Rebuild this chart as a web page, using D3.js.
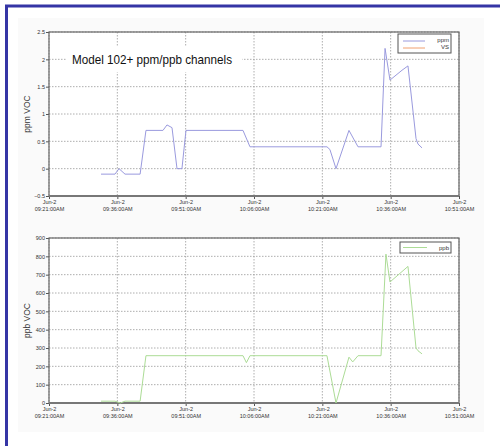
<!DOCTYPE html>
<html>
<head>
<meta charset="utf-8">
<script src="https://cdn.jsdelivr.net/npm/d3@7"></script>
<style>
  body { margin: 0; background: #fff; }
  svg { display: block; font-family: "Liberation Sans", Arial, sans-serif; }
  .tick text { fill: #333; }
</style>
</head>
<body>
<svg width="500" height="446"></svg>
<script>
// x ticks (Jun-2, every 15 minutes)
var xTicks = ["09:21:00", "09:36:00", "09:51:00", "10:06:00", "10:21:00", "10:36:00", "10:51:00"];
var xTickLabels = ["09:21:00AM", "09:36:00AM", "09:51:00AM", "10:06:00AM", "10:21:00AM", "10:36:00AM", "10:51:00AM"];
var ppmTicks = [-0.5, 0, 0.5, 1, 1.5, 2, 2.5];
var ppbTicks = [0, 100, 200, 300, 400, 500, 600, 700, 800, 900];

// ppm channel
var ppmTimes = ["09:32:25", "09:35:29", "09:36:22", "09:37:41", "09:41:00", "09:42:17", "09:46:01", "09:46:54",
  "09:48:00", "09:49:06", "09:50:11", "09:51:04", "10:03:35", "10:05:07", "10:22:01", "10:22:40", "10:24:00",
  "10:26:51", "10:28:10", "10:28:50", "10:33:53", "10:34:46", "10:35:51", "10:38:29", "10:39:48", "10:41:34",
  "10:42:00", "10:42:53"];
var ppmValues = [-0.1, -0.1, 0, -0.1, -0.1, 0.7, 0.7, 0.8,
  0.75, 0, 0, 0.7, 0.7, 0.4, 0.4, 0.35, 0,
  0.7, 0.5, 0.4, 0.4, 2.2, 1.62, 1.8, 1.88, 0.55,
  0.45, 0.38];

// ppb channel
var ppbTimes = ["09:32:25", "09:35:29", "09:36:40", "09:37:41", "09:41:00", "09:42:17", "10:03:35", "10:04:20",
  "10:05:07", "10:22:01", "10:24:00", "10:26:51", "10:27:40", "10:28:50", "10:33:53", "10:34:58", "10:35:51",
  "10:39:48", "10:41:34", "10:42:00", "10:42:53"];
var ppbValues = [10, 10, 0, 10, 10, 258, 258, 220,
  258, 258, 0, 250, 224, 258, 258, 812, 660,
  745, 300, 285, 268];

var svg = d3.select("svg");
var parse = d3.timeParse("%H:%M:%S");

// page frame
svg.append("rect").attr("x", 18).attr("y", 18).attr("width", 466).attr("height", 414).attr("fill", "#fafafa");
svg.append("line").attr("x1", 5).attr("x2", 500).attr("y1", 6).attr("y2", 6)
    .attr("stroke", "#3535a5").attr("stroke-width", 3);
svg.append("line").attr("x1", 6.5).attr("x2", 6.5).attr("y1", 5).attr("y2", 446)
    .attr("stroke", "#3535a5").attr("stroke-width", 3);

var x = d3.scaleTime()
    .domain([parse(xTicks[0]), parse(xTicks[xTicks.length - 1])])
    .range([49, 459]);

function panel(opts) {
  var y = d3.scaleLinear().domain(opts.domain).range(opts.range);
  var g = svg.append("g");
  var top = opts.range[1], bottom = opts.range[0];

  g.append("rect").attr("x", 49).attr("y", top).attr("width", 410).attr("height", bottom - top).attr("fill", "#fff");

  // grid
  g.append("g").selectAll("line").data(opts.ticks).enter().append("line")
      .attr("x1", 49).attr("x2", 459)
      .attr("y1", function(d) { return y(d); }).attr("y2", function(d) { return y(d); })
      .attr("stroke", "#999").attr("stroke-width", 0.8).attr("stroke-dasharray", "1.5,1.5");
  g.append("g").selectAll("line").data(xTicks).enter().append("line")
      .attr("x1", function(d) { return x(parse(d)); }).attr("x2", function(d) { return x(parse(d)); })
      .attr("y1", top).attr("y2", bottom)
      .attr("stroke", "#999").attr("stroke-width", 0.8).attr("stroke-dasharray", "1.5,1.5");

  // y axis
  var ya = g.append("g").attr("transform", "translate(49,0)")
      .call(d3.axisLeft(y).tickValues(opts.ticks).tickSize(3).tickPadding(1).tickFormat(d3.format("")));
  ya.select(".domain").remove();
  ya.selectAll("text").attr("font-size", 5.5);
  ya.selectAll("line").attr("stroke", "#555");

  // x axis
  var xa = g.append("g").attr("transform", "translate(0," + bottom + ")")
      .call(d3.axisBottom(x).tickValues(xTicks.map(parse)).tickSize(3).tickFormat(""));
  xa.select(".domain").remove();
  xa.selectAll("line").attr("stroke", "#555");
  xa.selectAll(".tick").append("text")
      .attr("fill", "#333").attr("font-size", 5.5).attr("text-anchor", "middle")
      .each(function(d, i) {
        var t = d3.select(this);
        t.append("tspan").attr("x", 0).attr("y", opts.labelY).text("Jun-2");
        t.append("tspan").attr("x", 0).attr("y", opts.labelY + 7).text(xTickLabels[i]);
      });

  // frame
  g.append("rect").attr("x", 49).attr("y", top).attr("width", 410).attr("height", bottom - top)
      .attr("fill", "none").attr("stroke", "#666").attr("stroke-width", 1.2);
  g.append("line").attr("x1", 49).attr("x2", 459).attr("y1", bottom).attr("y2", bottom)
      .attr("stroke", "#777").attr("stroke-width", 2);

  // y label
  g.append("text")
      .attr("transform", "translate(" + 30 + "," + ((top + bottom) / 2) + ") rotate(-90)")
      .attr("text-anchor", "middle").attr("font-size", 8.5).attr("fill", "#333")
      .text(opts.ylabel);

  return {g: g, y: y};
}

// top panel
var p1 = panel({domain: [-0.5, 2.5], range: [196, 32], ticks: ppmTicks, ylabel: "ppm VOC", labelY: 8});

p1.g.append("rect").attr("x", 66).attr("y", 46).attr("width", 176).attr("height", 26).attr("fill", "#fff");
p1.g.append("text").attr("x", 72).attr("y", 64)
    .attr("font-size", 13.5).attr("fill", "#111")
    .attr("textLength", 160).attr("lengthAdjust", "spacingAndGlyphs")
    .text("Model 102+ ppm/ppb channels");

var ppmLine = d3.line()
    .x(function(d, i) { return x(parse(ppmTimes[i])); })
    .y(function(d) { return p1.y(d); });
p1.g.append("path").datum(ppmValues).attr("d", ppmLine)
    .attr("fill", "none").attr("stroke", "#9a9ade").attr("stroke-width", 1);

// legend top
var leg1 = p1.g.append("g");
leg1.append("rect").attr("x", 398).attr("y", 34).attr("width", 53).attr("height", 19)
    .attr("fill", "#fff").attr("stroke", "#555").attr("stroke-width", 1);
leg1.append("line").attr("x1", 403).attr("x2", 425).attr("y1", 41).attr("y2", 41).attr("stroke", "#9a9ade");
leg1.append("line").attr("x1", 403).attr("x2", 425).attr("y1", 48).attr("y2", 48).attr("stroke", "#f0a070");
leg1.append("text").attr("x", 449).attr("y", 42).attr("text-anchor", "end").attr("font-size", 6).attr("fill", "#333").text("ppm");
leg1.append("text").attr("x", 449).attr("y", 49).attr("text-anchor", "end").attr("font-size", 6).attr("fill", "#333").text("VS");

// bottom panel
var p2 = panel({domain: [0, 900], range: [403, 238], ticks: ppbTicks, ylabel: "ppb VOC", labelY: 8});

var ppbLine = d3.line()
    .x(function(d, i) { return x(parse(ppbTimes[i])); })
    .y(function(d) { return p2.y(d); });
p2.g.append("path").datum(ppbValues).attr("d", ppbLine)
    .attr("fill", "none").attr("stroke", "#acdc96").attr("stroke-width", 1);

var leg2 = p2.g.append("g");
leg2.append("rect").attr("x", 400).attr("y", 242).attr("width", 51).attr("height", 11)
    .attr("fill", "#fff").attr("stroke", "#555").attr("stroke-width", 1);
leg2.append("line").attr("x1", 403).attr("x2", 427).attr("y1", 247.5).attr("y2", 247.5).attr("stroke", "#acdc96");
leg2.append("text").attr("x", 449).attr("y", 250).attr("text-anchor", "end").attr("font-size", 6).attr("fill", "#333").text("ppb");
</script>
</body>
</html>
